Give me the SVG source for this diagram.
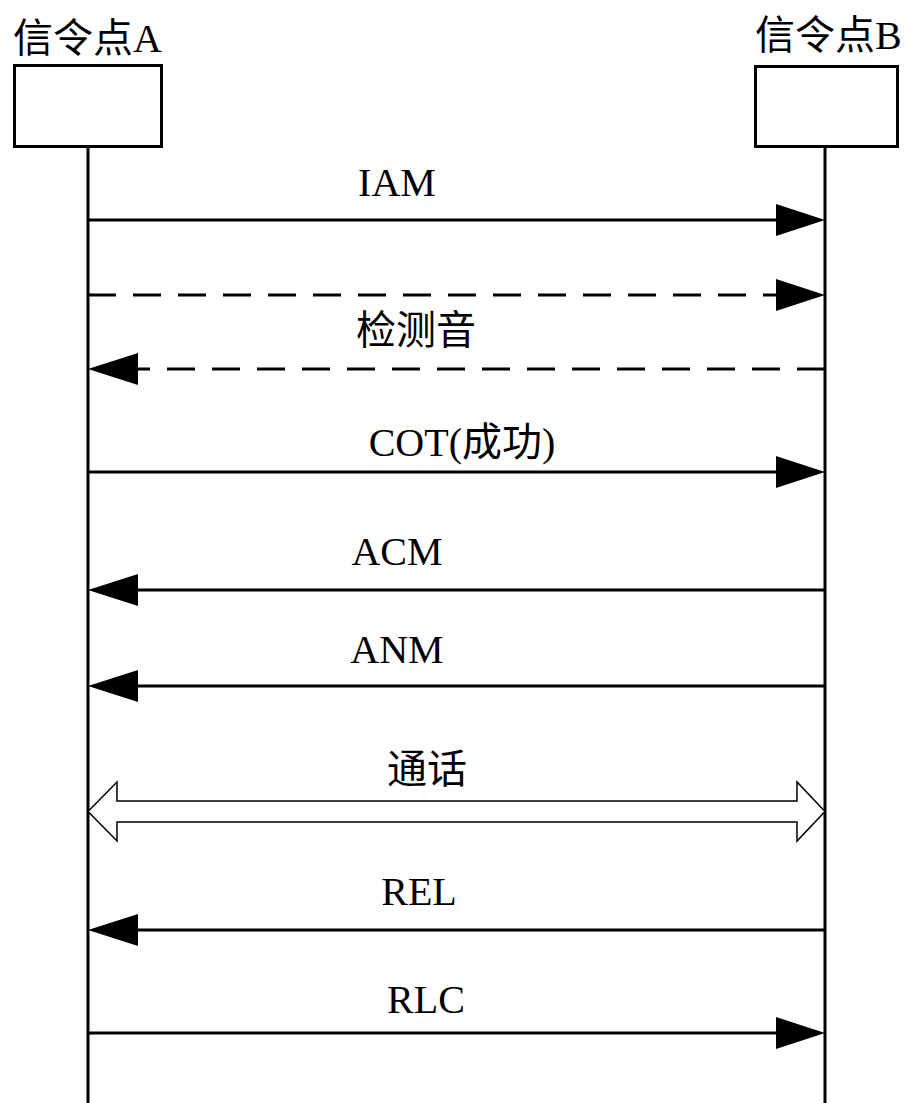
<svg xmlns="http://www.w3.org/2000/svg" width="909" height="1103" viewBox="0 0 909 1103">
<style>
text{font-family:"Liberation Serif","Noto Sans CJK SC",serif;font-size:40px;fill:#000}
.lbl{text-anchor:middle}
.box{fill:#fff;stroke:#000;stroke-width:3}
.life{stroke:#000;stroke-width:3;fill:none}
.msg{stroke:#000;stroke-width:3;fill:none}
.dash{stroke-dasharray:28 17}
.head{fill:#000;stroke:none}
.dbl{fill:#fff;stroke:#000;stroke-width:1.5;stroke-linejoin:miter}
</style>
<rect width="909" height="1103" fill="#fff"/>
<g id="nodeA">
<text x="13" y="52">信令点A</text>
<rect class="box" x="14.5" y="65.5" width="147" height="81"/>
<line class="life" x1="88" y1="147" x2="88" y2="1103"/>
</g>
<g id="nodeB">
<text x="755" y="49">信令点B</text>
<rect class="box" x="755.5" y="66.5" width="142" height="80"/>
<line class="life" x1="825" y1="147" x2="825" y2="1103"/>
</g>
<g id="connectors">
<g id="iam">
<line class="msg" x1="88" y1="220" x2="777" y2="220"/>
<polygon class="head" points="825,220 776,204 776,236"/>
<text class="lbl" x="397" y="196">IAM</text>
</g>
<g id="tone-out">
<line class="msg dash" x1="88" y1="295" x2="777" y2="295"/>
<polygon class="head" points="825,295 776,279 776,311"/>
</g>
<g id="tone-back">
<line class="msg dash" x1="825" y1="369" x2="137" y2="369"/>
<polygon class="head" points="88,369 138,353 138,385"/>
<text class="lbl" x="416" y="344">检测音</text>
</g>
<g id="cot">
<line class="msg" x1="88" y1="472" x2="777" y2="472"/>
<polygon class="head" points="825,472 776,456 776,488"/>
<text class="lbl" x="462" y="456">COT(成功)</text>
</g>
<g id="acm">
<line class="msg" x1="825" y1="590" x2="137" y2="590"/>
<polygon class="head" points="88,590 138,574 138,606"/>
<text class="lbl" x="397" y="565">ACM</text>
</g>
<g id="anm">
<line class="msg" x1="825" y1="686" x2="137" y2="686"/>
<polygon class="head" points="88,686 138,670 138,702"/>
<text class="lbl" x="397" y="663">ANM</text>
</g>
<g id="talk">
<polygon class="dbl" points="88,811.5 117,782 117,801 797,801 797,782 825,811.5 797,841 797,822 117,822 117,841"/>
<text class="lbl" x="427" y="783">通话</text>
</g>
<g id="rel">
<line class="msg" x1="825" y1="930" x2="137" y2="930"/>
<polygon class="head" points="88,930 138,914 138,946"/>
<text class="lbl" x="419" y="905">REL</text>
</g>
<g id="rlc">
<line class="msg" x1="88" y1="1033" x2="777" y2="1033"/>
<polygon class="head" points="825,1033 776,1017 776,1049"/>
<text class="lbl" x="426" y="1013">RLC</text>
</g>
</g>
</svg>
